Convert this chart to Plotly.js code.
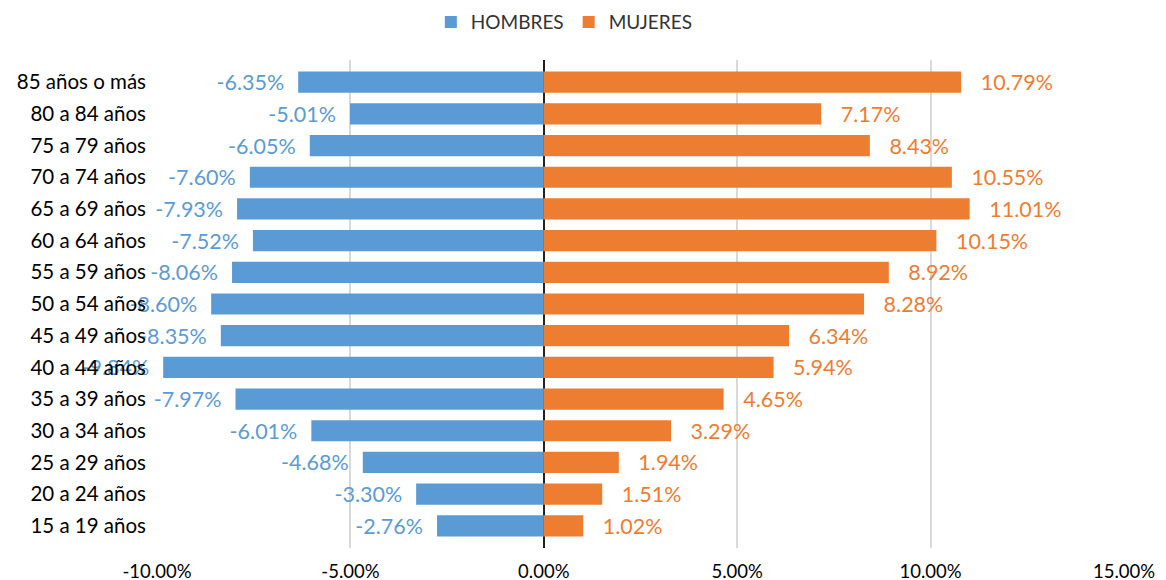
<!DOCTYPE html>
<html><head><meta charset="utf-8">
<script src="https://cdn.plot.ly/plotly-3.0.1.min.js"></script>
<style>html,body{margin:0;padding:0;background:#fff}</style>
</head><body><div id="chart" style="width:1166px;height:580px"></div>
<script>
const categories = ["15 a 19 años","20 a 24 años","25 a 29 años","30 a 34 años","35 a 39 años","40 a 44 años","45 a 49 años","50 a 54 años","55 a 59 años","60 a 64 años","65 a 69 años","70 a 74 años","75 a 79 años","80 a 84 años","85 años o más"];
const hombres = [-2.76,-3.30,-4.68,-6.01,-7.97,-9.84,-8.35,-8.60,-8.06,-7.52,-7.93,-7.60,-6.05,-5.01,-6.35];
const mujeres = [1.02,1.51,1.94,3.29,4.65,5.94,6.34,8.28,8.92,10.15,11.01,10.55,8.43,7.17,10.79];
const tickVals = [-10,-5,0,5,10,15];
const tickText = ["-10.00%","-5.00%","0.00%","5.00%","10.00%","15.00%"];

const BLUE = "#5B9BD5", ORANGE = "#ED7D31";
const fmt = v => v.toFixed(2) + "%";
const FONT = "Lato, 'Open Sans', sans-serif";

const traces = [
  {type:"bar", orientation:"h", name:"HOMBRES", y:categories, x:hombres,
   marker:{color:BLUE}, text:hombres.map(v => fmt(v) + "  "), textposition:"outside",
   textfont:{color:BLUE, size:21.5, family:FONT}, cliponaxis:false, constraintext:"none", hoverinfo:"x+y"},
  {type:"bar", orientation:"h", name:"MUJERES", y:categories, x:mujeres,
   marker:{color:ORANGE}, text:mujeres.map(v => "   " + fmt(v)), textposition:"outside",
   textfont:{color:ORANGE, size:21.5, family:FONT}, cliponaxis:false, constraintext:"none", hoverinfo:"x+y"}
];

const layout = {
  width:1166, height:580,
  margin:{l:157, r:42, t:60, b:32},
  barmode:"relative", bargap:0.33,
  font:{family:FONT, size:18, color:"#000"},
  paper_bgcolor:"#fff", plot_bgcolor:"#fff",
  showlegend:true,
  legend:{orientation:"h", xref:"container", yref:"container", x:0.484, xanchor:"center", y:0.962, yanchor:"middle",
          font:{size:19, color:"#333", family:FONT}, itemwidth:30, traceorder:"normal"},
  xaxis:{range:[-10,15], tickvals:tickVals, ticktext:tickText, showgrid:true, gridcolor:"#d9d9d9", gridwidth:2,
         zeroline:true, zerolinecolor:"#222", zerolinewidth:1.5, showline:false, ticks:"",
         tickfont:{size:18.5, color:"#000", family:FONT}, ticklabelstandoff:10, fixedrange:true},
  yaxis:{type:"category", range:[-0.7,14.7], showgrid:false, zeroline:false, showline:false, ticks:"",
         tickfont:{size:20.5, color:"#000", family:FONT}, ticklabelstandoff:10, fixedrange:true}
};

Plotly.newPlot("chart", traces, layout, {displayModeBar:false, staticPlot:true});
</script></body></html>
